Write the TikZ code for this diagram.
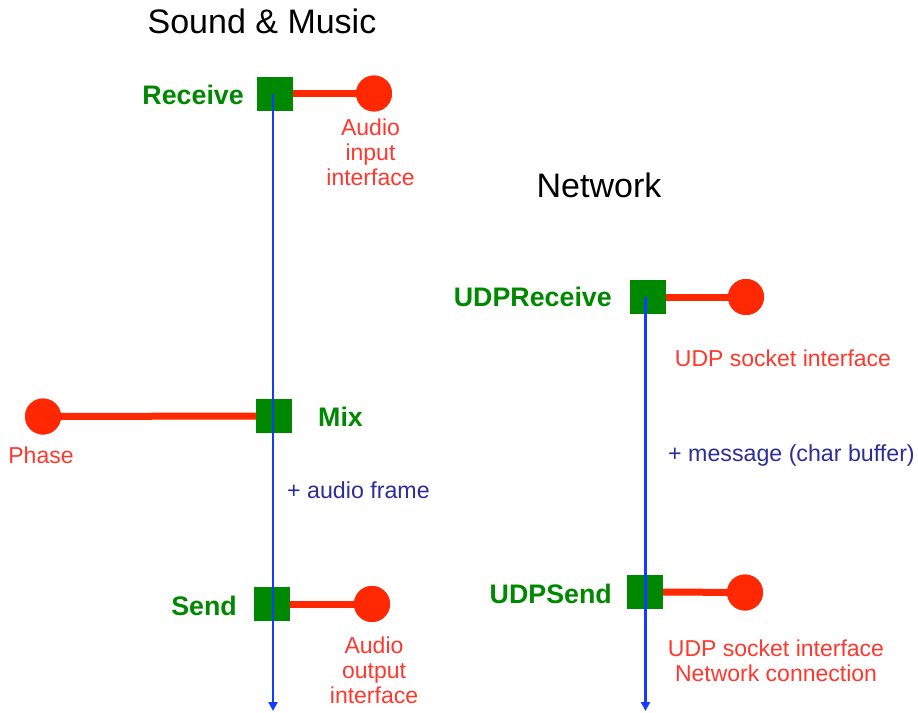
\documentclass[tikz,border=0pt]{standalone}
\usepackage{fontspec}
\setmainfont{Liberation Sans}
\usetikzlibrary{arrows.meta}

\definecolor{blockgreen}{RGB}{0,136,0}
\definecolor{portred}{RGB}{255,40,0}
\definecolor{portlabel}{RGB}{255,55,45}
\definecolor{flowblue}{RGB}{20,60,255}
\definecolor{datablue}{RGB}{45,45,150}

\tikzset{
  block/.style={draw=none, fill=blockgreen, minimum width=36pt, minimum height=34pt, inner sep=0pt},
  port/.style={circle, fill=portred, minimum size=36pt, inner sep=0pt},
  link/.style={draw=portred, line width=7pt},
  flow/.style={draw=flowblue, line width=2.2pt, -{Triangle[width=9pt,length=9pt]}},
  blocklabel/.style={text=blockgreen, font=\fontsize{26.8}{30}\selectfont\bfseries, inner sep=0pt},
  portnote/.style={text=portlabel, font=\fontsize{23}{25}\selectfont, inner sep=0pt, align=center},
  datanote/.style={text=datablue, font=\fontsize{23.2}{26}\selectfont, inner sep=0pt},
  heading/.style={font=\fontsize{34}{40}\selectfont, inner sep=0pt}
}

\begin{document}
\begin{tikzpicture}[x=1pt,y=-1pt]
  \useasboundingbox (0,0) rectangle (918,712);

  % section headings
  \node[heading, anchor=base] (hsound) at (262,33) {Sound \& Music};
  \node[heading, anchor=base] (hnet) at (599,197) {Network};

  % Sound & Music blocks and ports
  \node[block] (rcv) at (275,93.5) {};
  \node[block] (mix) at (274,416) {};
  \node[block] (snd) at (272,604) {};
  \node[port] (rcvport) at (374,93.5) {};
  \node[port] (phase) at (43,416.5) {};
  \node[port] (sndport) at (372,604) {};

  % Network blocks and ports
  \node[block] (urcv) at (648,297) {};
  \node[block] (usnd) at (645,592) {};
  \node[port] (urcvport) at (746,297) {};
  \node[port] (usndport) at (745,592.5) {};

  % port links
  \draw[link] (rcv.east) -- (rcvport.center);
  \draw[link] (mix.west) -- (phase.center);
  \draw[link] (snd.east) -- (sndport.center);
  \draw[link] (urcv.east) -- (urcvport.center);
  \draw[link] (usnd.east) -- (usndport.center);
  \node[port] at (rcvport) {};
  \node[port] at (phase) {};
  \node[port] at (sndport) {};
  \node[port] at (urcvport) {};
  \node[port] at (usndport) {};

  % data flow
  \coordinate (soundend) at (273,711);
  \coordinate (netend) at (645.5,711);
  \draw[flow] (273,93.5) -- (soundend);
  \draw[flow] (645.5,297) -- (netend);

  % block labels
  \node[blocklabel, anchor=base east] (lrcv) at (244,104) {Receive};
  \node[blocklabel, anchor=base west] (lmix) at (318,426.5) {Mix};
  \node[blocklabel, anchor=base east] (lsnd) at (237,615) {Send};
  \node[blocklabel, anchor=base east] (lurcv) at (612,306.5) {UDPReceive};
  \node[blocklabel, anchor=base east] (lusnd) at (612,603.5) {UDPSend};

  % port labels (base anchor sits on the last line)
  \node[portnote, anchor=base] (nrcv) at (370.5,185) {Audio\\input\\interface};
  \node[portnote, anchor=base] (nphase) at (41,463.5) {Phase};
  \node[portnote, anchor=base] (nsnd) at (374,703.5) {Audio\\output\\interface};
  \node[portnote, anchor=base] (nurcv) at (783,366.5) {UDP socket interface};
  \node[portnote, anchor=base] (nusnd) at (776,681.5) {UDP socket interface\\Network connection};

  % data labels
  \node[datanote, anchor=base west] (dsound) at (287,498.5) {+ audio frame};
  \node[datanote, anchor=base west] (dnet) at (668,461.5) {+ message (char buffer)};
\end{tikzpicture}
\end{document}
